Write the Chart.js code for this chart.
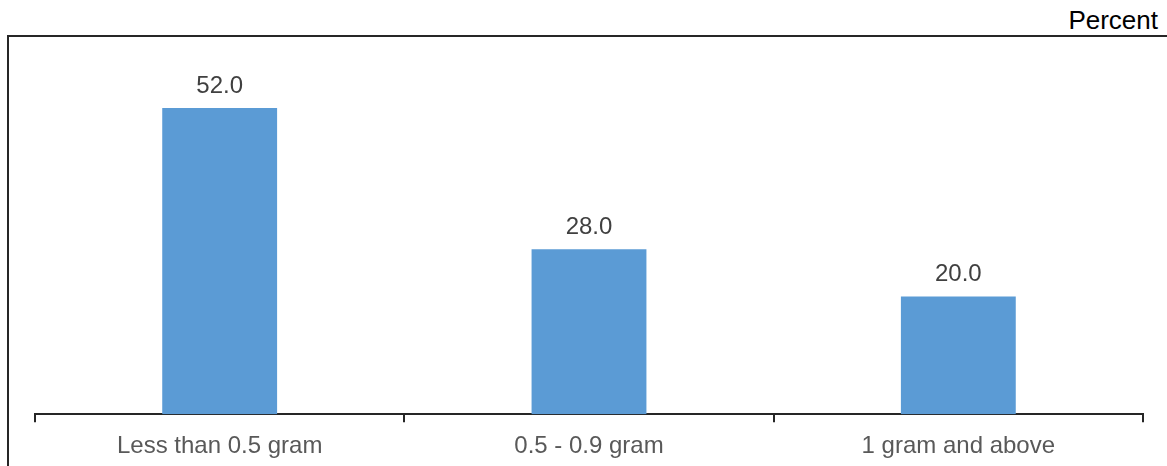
<!DOCTYPE html>
<html lang="en">
<head>
    <meta charset="utf-8">
    <title>Percent by weight</title>
    <script src="https://cdn.jsdelivr.net/npm/chart.js"></script>
    <style>
        html, body { margin: 0; padding: 0; background: #fff; }
        #wrap { position: relative; width: 1167px; height: 466px; overflow: hidden; }
        /* frame: only top and left edges show */
        #frame {
            position: absolute; left: 7px; top: 35px; width: 1200px; height: 500px;
            border-top: 2px solid #262626; border-left: 2px solid #262626;
        }
        #unit {
            position: absolute; right: 9px; top: 5px;
            font: 26px "Liberation Sans", Arial, sans-serif; color: #000;
        }
        #chart { position: absolute; left: 0; top: 0; }
    </style>
</head>
<body>
<div id="wrap">
    <div id="frame"></div>
    <div id="unit">Percent</div>
    <canvas id="chart" width="1167" height="466"></canvas>
</div>
<script>
    const categories = ['Less than 0.5 gram', '0.5 - 0.9 gram', '1 gram and above'];
    const values = [52.0, 28.0, 20.0];

    // value labels above each bar
    const barLabels = {
        id: 'barLabels',
        afterDatasetsDraw(chart) {
            const ctx = chart.ctx;
            const meta = chart.getDatasetMeta(0);
            ctx.save();
            ctx.font = '24px "Liberation Sans", Arial, sans-serif';
            ctx.fillStyle = '#404040';
            ctx.textAlign = 'center';
            ctx.textBaseline = 'alphabetic';
            meta.data.forEach((bar, i) => {
                ctx.fillText(values[i].toFixed(1), bar.x, bar.y - 15);
            });
            ctx.restore();
        }
    };

    new Chart(document.getElementById('chart'), {
        type: 'bar',
        data: {
            labels: categories,
            datasets: [{
                data: values,
                backgroundColor: '#5B9BD5',
                categoryPercentage: 1,
                barPercentage: 0.311
            }]
        },
        options: {
            responsive: false,
            animation: false,
            layout: { padding: { left: 35, right: 24, top: 61, bottom: 0 } },
            plugins: { legend: { display: false }, tooltip: { enabled: false } },
            scales: {
                x: {
                    afterFit(scale) { scale.height -= 5; },
                    grid: {
                        offset: true,
                        drawOnChartArea: false,
                        drawTicks: true,
                        tickLength: 8,
                        color: '#262626',
                        lineWidth: 2
                    },
                    border: { display: true, color: '#262626', width: 2 },
                    ticks: {
                        color: '#595959',
                        padding: 10,
                        font: { family: '"Liberation Sans", Arial, sans-serif', size: 24 }
                    }
                },
                y: {
                    display: false,
                    min: 0,
                    max: 60
                }
            }
        },
        plugins: [barLabels]
    });
</script>
</body>
</html>
